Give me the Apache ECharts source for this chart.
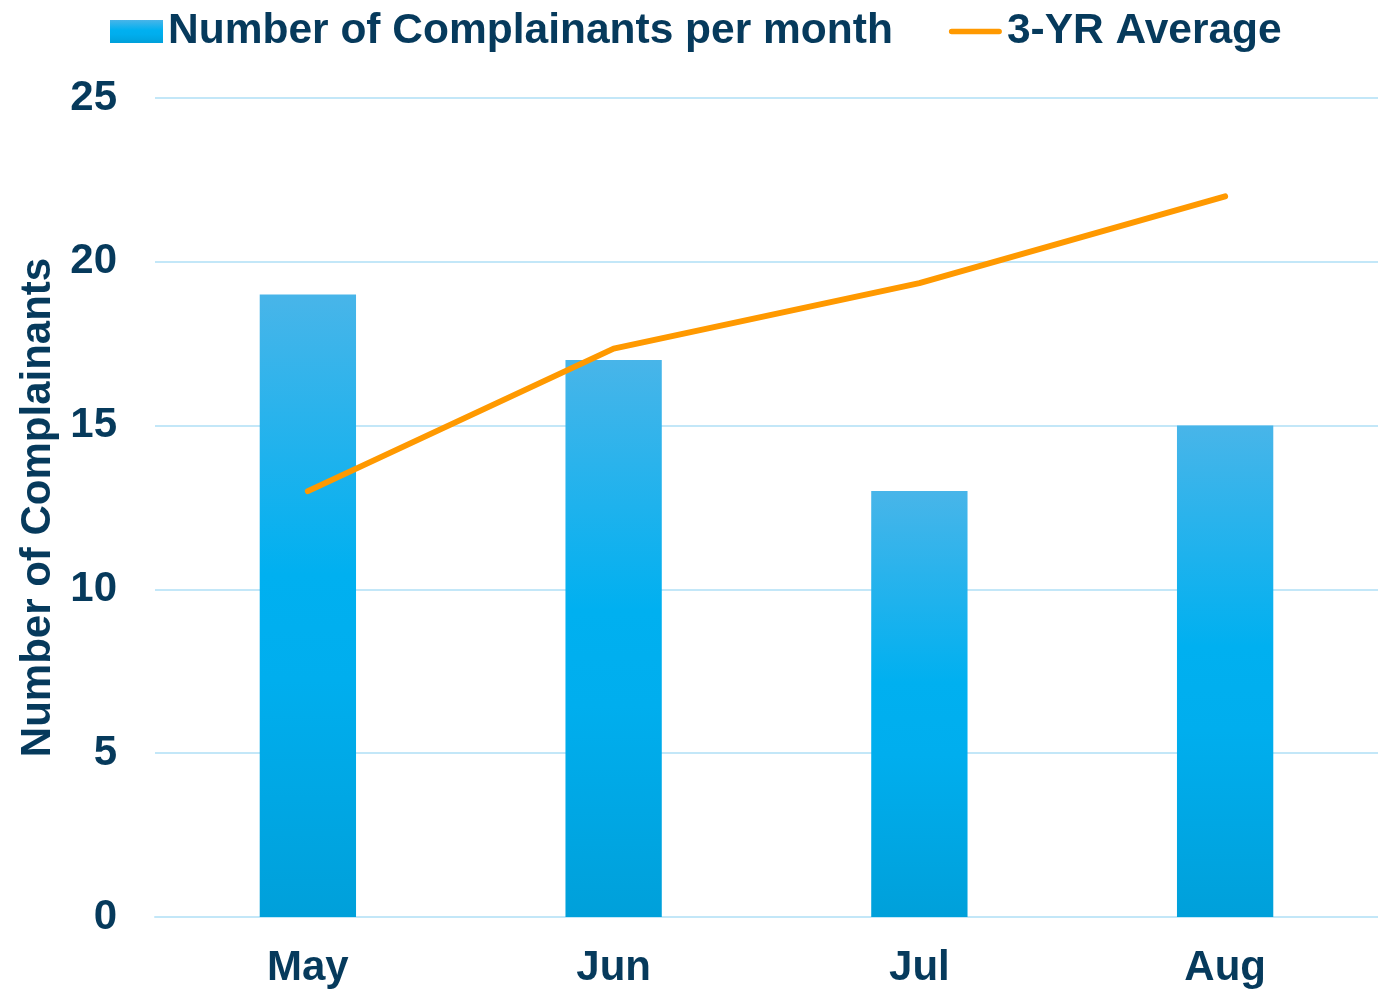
<!DOCTYPE html>
<html>
<head>
<meta charset="utf-8">
<script src="https://cdn.jsdelivr.net/npm/echarts@6/dist/echarts.min.js"></script>
<style>
  html, body { margin: 0; padding: 0; background: #fff; }
  #chart { width: 1378px; height: 990px; }
</style>
</head>
<body>
<div id="chart"></div>
<script>
// data
const months = ['May', 'Jun', 'Jul', 'Aug'];
const complainants = [19, 17, 13, 15];
const threeYrAvg = [13, 17.35, 19.35, 22];
const yTicks = { min: 0, max: 25, interval: 5 };

const textColor = '#063a5c';
const gridColor = '#c3e7f8';

const chart = echarts.init(document.getElementById('chart'));

chart.setOption({
  animation: false,
  textStyle: { fontFamily: 'Liberation Sans, Arial, sans-serif' },
  legend: {
    top: 5,
    left: 105,
    itemWidth: 53,
    itemHeight: 23,
    itemGap: 56,
    symbolKeepAspect: true,
    textStyle: { color: textColor, fontSize: 42.5, fontWeight: 'bold' },
    data: [
      { name: 'Number of Complainants per month', icon: 'rect' },
      // thin capsule so the line icon keeps its 6px thickness
      { name: '3-YR Average', icon: 'path://M3,0 L55,0 A3,3 0 0 1 55,6 L3,6 A3,3 0 0 1 3,0 Z' }
    ]
  },
  grid: { left: 155, right: 0, top: 98, bottom: 73 },
  xAxis: {
    type: 'category',
    data: months,
    axisTick: { show: false },
    axisLine: { lineStyle: { color: gridColor, width: 2 } },
    axisLabel: { color: textColor, fontSize: 42, fontWeight: 'bold', margin: 30 }
  },
  yAxis: {
    type: 'value',
    min: yTicks.min,
    max: yTicks.max,
    interval: yTicks.interval,
    name: 'Number of Complainants',
    nameLocation: 'middle',
    nameGap: 94,
    nameTextStyle: { color: textColor, fontSize: 42, fontWeight: 'bold' },
    axisLine: { show: false },
    axisTick: { show: false },
    axisLabel: { color: textColor, fontSize: 42, fontWeight: 'bold', margin: 38 },
    splitLine: { lineStyle: { color: gridColor, width: 2 } }
  },
  series: [
    {
      name: 'Number of Complainants per month',
      type: 'bar',
      barWidth: '31.5%',
      data: complainants,
      itemStyle: {
        color: new echarts.graphic.LinearGradient(0, 0, 0, 1, [
          { offset: 0, color: '#48b5e9' },
          { offset: 0.45, color: '#00b0f0' },
          { offset: 0.62, color: '#00aeee' },
          { offset: 1, color: '#00a0da' }
        ])
      }
    },
    {
      name: '3-YR Average',
      type: 'line',
      data: threeYrAvg,
      symbol: 'none',
      lineStyle: { color: '#ff9900', width: 6, cap: 'round' },
      itemStyle: { color: '#ff9900' }
    }
  ]
});
</script>
</body>
</html>
